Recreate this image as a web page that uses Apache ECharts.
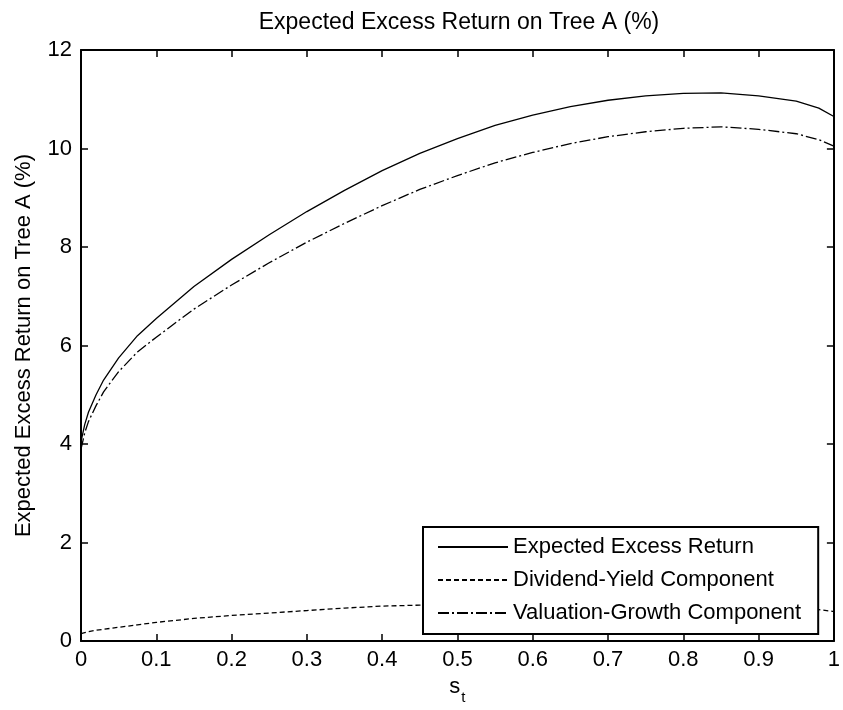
<!DOCTYPE html>
<html lang="en">

<head>
  <meta charset="UTF-8">
  <title>Expected Excess Return on Tree A</title>
  <style>
    body {
      margin: 0;
      background: #ffffff;
    }

    #main {
      width: 843px;
      height: 710px;
    }
  </style>
  <script src="https://cdn.jsdelivr.net/npm/echarts@6/dist/echarts.min.js"></script>
</head>

<body>
  <div id="main"></div>

  <script>
    var sValues = [0, 0.005, 0.01, 0.02, 0.03, 0.05, 0.075, 0.1, 0.15, 0.2, 0.25, 0.3, 0.35, 0.4, 0.45,
      0.5, 0.55, 0.6, 0.65, 0.7, 0.75, 0.8, 0.85, 0.9, 0.95, 0.98, 1.0];

    // Expected Excess Return (solid)
    var totalReturn = [4.05, 4.4, 4.65, 5.0, 5.3, 5.75, 6.2, 6.55, 7.2, 7.75, 8.25, 8.72, 9.15, 9.55, 9.9,
      10.2, 10.47, 10.68, 10.85, 10.98, 11.07, 11.12, 11.13, 11.07, 10.96, 10.82, 10.65];

    // Dividend-Yield Component (dashed)
    var dividendYield = [0.15, 0.17, 0.19, 0.22, 0.24, 0.28, 0.33, 0.38, 0.46, 0.52, 0.57, 0.62, 0.67, 0.71, 0.73,
      0.75, 0.76, 0.76, 0.75, 0.74, 0.73, 0.71, 0.69, 0.68, 0.66, 0.64, 0.6];

    // Valuation-Growth Component (dash-dot)
    var valuationGrowth = [3.9, 4.23, 4.46, 4.78, 5.06, 5.47, 5.87, 6.17, 6.74, 7.23, 7.68, 8.1, 8.48, 8.84, 9.17,
      9.45, 9.71, 9.92, 10.1, 10.24, 10.34, 10.41, 10.44, 10.39, 10.3, 10.18, 10.05];

    var seriesNames = ['Expected Excess Return', 'Dividend-Yield Component', 'Valuation-Growth Component'];

    function pairs(ys) {
      var out = [];
      for (var i = 0; i < sValues.length; i++) {
        out.push([sValues[i], ys[i]]);
      }
      return out;
    }

    var fontName = 'Liberation Sans, Arial, Helvetica, sans-serif';
    var black = '#000000';

    // shared look of the box axes
    function boxAxis(extra) {
      var axis = {
        axisLine: { show: true, onZero: false, lineStyle: { color: black, width: 2 } },
        axisTick: { show: true, inside: true, length: 7, lineStyle: { color: black, width: 1.5 } },
        splitLine: { show: false },
        axisLabel: { show: false }
      };
      for (var k in extra) axis[k] = extra[k];
      return axis;
    }

    var myChart = echarts.init(document.getElementById('main'));

    var option = {
      animation: false,
      backgroundColor: '#ffffff',
      textStyle: { fontFamily: fontName, color: black },
      title: {
        text: 'Expected Excess Return on Tree A (%)',
        left: 459,
        top: 11,
        padding: 0,
        textAlign: 'center',
        textStyle: { fontSize: 23, fontWeight: 'normal', color: black, fontFamily: fontName }
      },
      grid: {
        left: 81,
        right: 6,
        top: 50,
        bottom: 64
      },
      legend: {
        data: seriesNames,
        orient: 'vertical',
        left: 423,
        top: 527,
        padding: [8, 17, 9, 14],
        itemGap: 9,
        itemWidth: 70,
        itemHeight: 14,
        backgroundColor: '#ffffff',
        borderColor: black,
        borderWidth: 2,
        borderRadius: 0,
        // hide the marker dot, keep only the line sample
        itemStyle: { color: 'rgba(0,0,0,0)', borderWidth: 0, opacity: 0 },
        textStyle: { fontSize: 22, lineHeight: 24, color: black, fontFamily: fontName }
      },
      xAxis: [
        boxAxis({
          type: 'value',
          min: 0,
          max: 1,
          interval: 0.1,
          position: 'bottom',
          name: 's{sub|t}',
          nameLocation: 'middle',
          nameGap: 27,
          nameTextStyle: {
            fontSize: 22,
            color: black,
            fontFamily: fontName,
            rich: {
              sub: { fontSize: 15, lineHeight: 15, padding: [14, 0, 0, 1], verticalAlign: 'top', fontFamily: fontName, color: black }
            }
          },
          axisLabel: { show: true, fontSize: 22, color: black, margin: 8, fontFamily: fontName }
        }),
        boxAxis({
          type: 'value',
          min: 0,
          max: 1,
          interval: 0.1,
          position: 'top'
        })
      ],
      yAxis: [
        boxAxis({
          type: 'value',
          min: 0,
          max: 12,
          interval: 2,
          position: 'left',
          name: 'Expected Excess Return on Tree A (%)',
          nameLocation: 'middle',
          nameGap: 46,
          nameTextStyle: { fontSize: 22, color: black, fontFamily: fontName },
          axisLabel: { show: true, fontSize: 22, color: black, margin: 9, fontFamily: fontName }
        }),
        boxAxis({
          type: 'value',
          min: 0,
          max: 12,
          interval: 2,
          position: 'right'
        })
      ],
      series: [
        {
          name: seriesNames[0],
          type: 'line',
          symbol: 'none',
          data: pairs(totalReturn),
          lineStyle: { color: black, width: 1.3, type: 'solid' },
          itemStyle: { color: black }
        },
        {
          name: seriesNames[1],
          type: 'line',
          symbol: 'none',
          data: pairs(dividendYield),
          lineStyle: { color: black, width: 1.3, type: [5, 3] },
          itemStyle: { color: black }
        },
        {
          name: seriesNames[2],
          type: 'line',
          symbol: 'none',
          data: pairs(valuationGrowth),
          lineStyle: { color: black, width: 1.3, type: [11, 3, 2, 3] },
          itemStyle: { color: black }
        }
      ]
    };

    myChart.setOption(option);
  </script>
</body>

</html>
